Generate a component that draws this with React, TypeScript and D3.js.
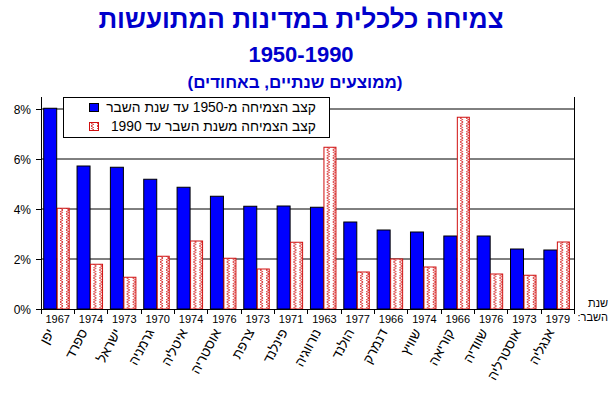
import React, { useEffect, useRef } from 'react';
import * as d3 from 'd3';

// countries, left to right
const countries = [
  'יפן', 'ספרד', 'ישראל', 'גרמניה', 'איטליה', 'אוסטריה', 'צרפת', 'פינלנד',
  'נורווגיה', 'הולנד', 'דנמרק', 'שוויץ', 'קוריאה', 'שוודיה', 'אוסטרליה', 'אנגליה',
];
// year of the break
const breakYears = [
  '1967', '1974', '1973', '1970', '1974', '1976', '1973', '1971',
  '1963', '1977', '1966', '1974', '1966', '1976', '1973', '1979',
];
// growth 1950 -> break year (%)
const growthBefore = [8.03, 5.72, 5.67, 5.19, 4.87, 4.51, 4.11, 4.12, 4.07, 3.48, 3.16, 3.08, 2.92, 2.92, 2.4, 2.36];
// growth break year -> 1990 (%)
const growthAfter = [4.03, 1.79, 1.27, 2.11, 2.72, 2.03, 1.6, 2.67, 6.47, 1.48, 2.0, 1.68, 7.67, 1.4, 1.35, 2.68];
const yTicks = [0, 2, 4, 6, 8];

const title = 'צמיחה כלכלית במדינות המתועשות';
const subtitle = '1950-1990';
const note = '(ממוצעים שנתיים, באחודים)';
const legendLabels = ['קצב הצמיחה מ-1950 עד שנת השבר', 'קצב הצמיחה משנת השבר עד 1990'];

const BLUE = '#0000ff';
const RED = '#d01010';
const FONT = '"Liberation Sans", Arial, "DejaVu Sans", sans-serif';

const GrowthChart: React.FC = () => {
  const ref = useRef<SVGSVGElement | null>(null);

  useEffect(() => {
    const svg = d3.select(ref.current);
    svg.selectAll('*').remove();

    const left = 41;
    const right = 574.5;
    const top = 97;
    const bottom = 309;

    const x = d3.scaleBand().domain(countries).range([left, right]).padding(0);
    const sub = d3.scaleBand().domain(['before', 'after']).range([2.7, 28.7]).padding(0);
    const y = d3.scaleLinear().domain([0, 8]).range([bottom, bottom - 200]);

    // hatch pattern for the second series
    const defs = svg.append('defs');
    const pat = defs
      .append('pattern')
      .attr('id', 'squiggle')
      .attr('patternUnits', 'userSpaceOnUse')
      .attr('width', 6)
      .attr('height', 8);
    pat.append('rect').attr('width', 6).attr('height', 8).attr('fill', '#fff');
    pat
      .append('path')
      .attr('d', 'M1,0 L4,2 L1,4 M4,4 L1,6 L4,8')
      .attr('fill', 'none')
      .attr('stroke', RED)
      .attr('stroke-width', 0.9);

    // titles
    svg.append('text').attr('x', 301).attr('y', 28).attr('text-anchor', 'middle')
      .attr('direction', 'rtl')
      .attr('font-family', FONT).attr('font-weight', 'bold').attr('font-size', 26)
      .attr('fill', '#0000cc').text(title);
    svg.append('text').attr('x', 301).attr('y', 62).attr('text-anchor', 'middle')
      .attr('font-family', FONT).attr('font-weight', 'bold').attr('font-size', 22)
      .attr('fill', '#0000cc').text(subtitle);
    svg.append('text').attr('x', 295).attr('y', 88).attr('text-anchor', 'middle')
      .attr('direction', 'rtl')
      .attr('font-family', FONT).attr('font-weight', 'bold').attr('font-size', 17)
      .attr('fill', '#0000cc').text(note);

    // gridlines
    svg.append('g')
      .selectAll('line')
      .data(yTicks.filter((t) => t > 0))
      .enter()
      .append('line')
      .attr('x1', left).attr('x2', right)
      .attr('y1', (d) => y(d)).attr('y2', (d) => y(d))
      .attr('stroke', '#000');

    // bars
    const groups = svg.append('g')
      .selectAll('g')
      .data(countries)
      .enter()
      .append('g')
      .attr('transform', (d) => `translate(${x(d)},0)`);

    groups.append('rect')
      .attr('x', sub('before')!)
      .attr('y', (_, i) => y(growthBefore[i]))
      .attr('width', sub.bandwidth())
      .attr('height', (_, i) => bottom - y(growthBefore[i]))
      .attr('fill', BLUE)
      .attr('stroke', '#000')
      .attr('stroke-width', 1);

    groups.append('rect')
      .attr('x', sub('after')! + 0.5)
      .attr('y', (_, i) => y(growthAfter[i]))
      .attr('width', sub.bandwidth() - 1)
      .attr('height', (_, i) => bottom - y(growthAfter[i]))
      .attr('fill', 'url(#squiggle)')
      .attr('stroke', RED)
      .attr('stroke-width', 1);

    // axes frame
    const axis = svg.append('g').attr('stroke', '#000').attr('shape-rendering', 'crispEdges');
    axis.append('line').attr('x1', left).attr('x2', left).attr('y1', top).attr('y2', bottom);
    axis.append('line').attr('x1', right).attr('x2', right).attr('y1', top).attr('y2', bottom + 5);
    axis.append('line').attr('x1', left - 5).attr('x2', right).attr('y1', bottom).attr('y2', bottom);
    axis.selectAll('.yt')
      .data(yTicks)
      .enter()
      .append('line')
      .attr('x1', left - 5).attr('x2', left)
      .attr('y1', (d) => y(d)).attr('y2', (d) => y(d));
    axis.selectAll('.xt')
      .data(countries)
      .enter()
      .append('line')
      .attr('x1', (d) => x(d)!).attr('x2', (d) => x(d)!)
      .attr('y1', bottom).attr('y2', bottom + 5);

    // y labels
    svg.append('g')
      .selectAll('text')
      .data(yTicks)
      .enter()
      .append('text')
      .attr('x', 31)
      .attr('y', (d) => y(d) + 4.5)
      .attr('text-anchor', 'end')
      .attr('font-family', FONT)
      .attr('font-size', 12)
      .text((d) => `${d}%`);

    // break years
    svg.append('g')
      .selectAll('text')
      .data(breakYears)
      .enter()
      .append('text')
      .attr('x', (_, i) => x(countries[i])! + x.bandwidth() / 2)
      .attr('y', 323)
      .attr('text-anchor', 'middle')
      .attr('font-family', FONT)
      .attr('font-size', 11)
      .text((d) => d);

    // country names
    svg.append('g')
      .selectAll('text')
      .data(countries)
      .enter()
      .append('text')
      .attr('transform', (d) => `translate(${x(d)! + x.bandwidth() / 2 - 3},${332}) rotate(-62)`)
      .attr('text-anchor', 'end')
      .attr('font-family', FONT)
      .attr('font-size', 13.5)
      .text((d) => d);

    // break year caption
    svg.append('text').attr('x', 608).attr('y', 307).attr('direction', 'rtl')
      .attr('text-anchor', 'start').attr('font-family', FONT).attr('font-size', 11).text('שנת');
    svg.append('text').attr('x', 608).attr('y', 321).attr('direction', 'rtl')
      .attr('text-anchor', 'start').attr('font-family', FONT).attr('font-size', 11).text('השבר:');

    // legend
    const lg = svg.append('g');
    lg.append('rect').attr('x', 63.5).attr('y', 97.5).attr('width', 266).attr('height', 40)
      .attr('fill', '#fff').attr('stroke', '#000');
    lg.append('rect').attr('x', 89.5).attr('y', 103.5).attr('width', 9).attr('height', 8)
      .attr('fill', BLUE).attr('stroke', '#000');
    lg.append('rect').attr('x', 89.5).attr('y', 122.5).attr('width', 9).attr('height', 8)
      .attr('fill', 'url(#squiggle)').attr('stroke', RED);
    lg.selectAll('.lt')
      .data(legendLabels)
      .enter()
      .append('text')
      .attr('x', 316)
      .attr('y', (_, i) => 112 + i * 19)
      .attr('direction', 'rtl')
      .attr('text-anchor', 'start')
      .attr('font-family', FONT)
      .attr('font-size', 13.8)
      .text((d) => d);
  }, []);

  return <svg ref={ref} width={614} height={396} style={{ display: 'block' }} />;
};

export default function App() {
  return (
    <div>
      <style>{'body{margin:0;background:#fff}'}</style>
      <GrowthChart />
    </div>
  );
}
